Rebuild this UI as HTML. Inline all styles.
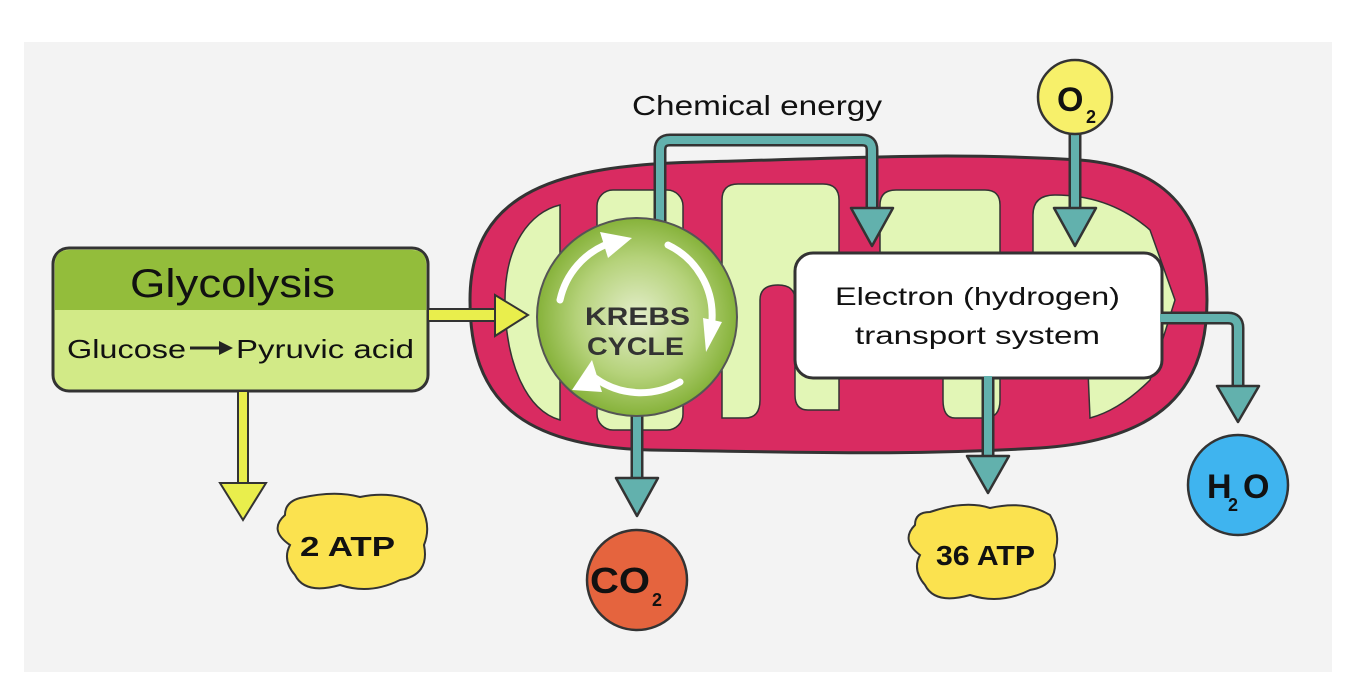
<!DOCTYPE html>
<html><head><meta charset="utf-8"><style>
html,body{margin:0;padding:0;background:#fff;width:1348px;height:690px;overflow:hidden}
svg{display:block}
text{font-family:"Liberation Sans",sans-serif}
</style></head><body>
<svg width="1348" height="690" viewBox="0 0 1348 690" xmlns="http://www.w3.org/2000/svg">
<defs>
<radialGradient id="kg" cx="50%" cy="50%" r="50%">
<stop offset="0" stop-color="#e4eecb"/><stop offset="0.6" stop-color="#b5d27a"/><stop offset="1" stop-color="#86b23a"/>
</radialGradient>
</defs>
<rect x="24" y="42" width="1308" height="630" fill="#f3f3f3"/>

<path d="M470,300 C470,190 560,165 700,162 C850,158 950,152 1080,160 C1180,168 1207,230 1207,300 C1207,390 1160,440 1040,448 C900,456 800,452 650,450 C520,446 470,400 470,300 Z" fill="#d92b61" stroke="#333" stroke-width="3"/>
<path d="M505,300 C505,245 530,212 560,205 L560,420 C525,410 505,360 505,300 Z" fill="#e2f6b6" stroke="#333" stroke-width="1.5"/>
<rect x="597" y="190" width="86" height="240" rx="16" fill="#e2f6b6" stroke="#333" stroke-width="1.5"/>
<path d="M722,200 Q722,184 738,184 L823,184 Q839,184 839,200 L839,410 L808,410 Q795,410 795,395 L795,300 Q795,285 778,285 Q760,285 760,300 L760,400 Q760,418 745,418 L722,418 Z" fill="#e2f6b6" stroke="#333" stroke-width="1.5"/>
<path d="M880,205 Q880,190 896,190 L985,190 Q1000,190 1000,205 L1000,400 Q1000,418 985,418 L955,418 Q943,418 943,400 L943,300 L880,300 Z" fill="#e2f6b6" stroke="#333" stroke-width="1.5"/>
<path d="M1033,215 Q1033,195 1055,195 Q1110,195 1150,230 L1175,300 L1150,380 Q1120,410 1090,418 L1085,300 L1033,300 Z" fill="#e2f6b6" stroke="#333" stroke-width="1.5"/>

<rect x="795" y="253" width="367" height="125" rx="18" fill="#fff" stroke="#333" stroke-width="3"/>
<text x="835" y="305" font-size="25" textLength="285" lengthAdjust="spacingAndGlyphs" fill="#111">Electron (hydrogen)</text>
<text x="855" y="344" font-size="25" textLength="245" lengthAdjust="spacingAndGlyphs" fill="#111">transport system</text>

<g fill="none" stroke-linejoin="round">
<path d="M660,225 L660,150 Q660,140 670,140 L862,140 Q872,140 872,150 L872,210" stroke="#333" stroke-width="13"/>
<path d="M660,225 L660,150 Q660,140 670,140 L862,140 Q872,140 872,150 L872,212" stroke="#62b1ad" stroke-width="8"/>
<path d="M1075,130 L1075,210" stroke="#333" stroke-width="13"/><path d="M1075,130 L1075,212" stroke="#62b1ad" stroke-width="8"/>
<path d="M1162,318 L1228,318 Q1238,318 1238,328 L1238,388" stroke="#333" stroke-width="13"/>
<path d="M1160,318 L1228,318 Q1238,318 1238,328 L1238,390" stroke="#62b1ad" stroke-width="8"/>
<path d="M988,378 L988,458" stroke="#333" stroke-width="13"/><path d="M988,376 L988,460" stroke="#62b1ad" stroke-width="8"/>
<path d="M637,410 L637,480" stroke="#333" stroke-width="13"/><path d="M637,410 L637,482" stroke="#62b1ad" stroke-width="8"/>
</g>
<g fill="#62b1ad" stroke="#333" stroke-width="2.5" stroke-linejoin="round">
<polygon points="851,208 893,208 872,246"/>
<polygon points="1054,208 1096,208 1075,246"/>
<polygon points="1217,386 1259,386 1238,422"/>
<polygon points="967,456 1009,456 988,493"/>
<polygon points="616,478 658,478 637,516"/>
</g>

<ellipse cx="637" cy="317" rx="100" ry="99" fill="url(#kg)" stroke="#555" stroke-width="2"/>
<g fill="none" stroke="#fff" stroke-width="7" stroke-linecap="round">
<path d="M560,300 A78,78 0 0 1 610,243"/>
<path d="M668,245 A78,78 0 0 1 712,320"/>
<path d="M680,382 A78,78 0 0 1 595,378"/>
</g>
<g fill="#fff">
<polygon points="600,232 632,238 608,258"/>
<polygon points="703,318 722,322 706,352"/>
<polygon points="592,360 572,390 602,392"/>
</g>
<text x="585" y="325" font-size="25" font-weight="bold" textLength="105" lengthAdjust="spacingAndGlyphs" fill="#333">KREBS</text>
<text x="587" y="355" font-size="25" font-weight="bold" textLength="97" lengthAdjust="spacingAndGlyphs" fill="#333">CYCLE</text>

<rect x="53" y="248" width="375" height="143" rx="16" fill="#d2ea87" stroke="#333" stroke-width="3"/>
<path d="M55,310 L55,264 Q55,250 69,250 L412,250 Q426,250 426,264 L426,310 Z" fill="#93bd3b"/>
<text x="130" y="297" font-size="40" textLength="205" lengthAdjust="spacingAndGlyphs" fill="#111">Glycolysis</text>
<text x="67" y="358" font-size="26" textLength="119" lengthAdjust="spacingAndGlyphs" fill="#111">Glucose</text>
<line x1="190" y1="348" x2="222" y2="348" stroke="#222" stroke-width="3"/>
<polygon points="219,341 233,348 219,355" fill="#222"/>
<text x="236" y="358" font-size="26" textLength="178" lengthAdjust="spacingAndGlyphs" fill="#111">Pyruvic acid</text>

<rect x="428" y="309" width="70" height="12" fill="#e9ee4c" stroke="#333" stroke-width="2"/>
<polygon points="495,295 528,315 495,336" fill="#e9ee4c" stroke="#333" stroke-width="2"/>
<rect x="238" y="391" width="10" height="94" fill="#e9ee4c" stroke="#333" stroke-width="2"/>
<polygon points="220,483 266,483 243,520" fill="#e9ee4c" stroke="#333" stroke-width="2"/>

<path d="M300,498 Q335,490 360,497 Q395,490 420,505 Q432,525 424,545 Q430,575 400,580 Q370,595 340,585 Q305,595 295,575 Q282,560 290,545 Q268,530 285,515 Q285,502 300,498 Z" fill="#fbe24f" stroke="#333" stroke-width="2"/>
<text x="300" y="556" font-size="28" font-weight="bold" textLength="95" lengthAdjust="spacingAndGlyphs" fill="#111">2 ATP</text>
<path d="M930,512 Q965,500 990,508 Q1025,500 1050,515 Q1062,535 1054,555 Q1060,585 1030,590 Q1000,605 970,595 Q935,605 925,585 Q912,570 920,555 Q900,540 915,525 Q915,512 930,512 Z" fill="#fbe24f" stroke="#333" stroke-width="2"/>
<text x="936" y="565" font-size="28" font-weight="bold" textLength="99" lengthAdjust="spacingAndGlyphs" fill="#111">36 ATP</text>

<circle cx="1075" cy="97" r="37" fill="#f7f06a" stroke="#333" stroke-width="2.5"/>
<text x="1057" y="111" font-size="34" font-weight="bold" fill="#111">O</text>
<text x="1086" y="123" font-size="18" font-weight="bold" fill="#111">2</text>
<circle cx="1238" cy="485" r="50" fill="#3fb4ef" stroke="#333" stroke-width="2.5"/>
<text x="1207" y="498" font-size="34" font-weight="bold" fill="#111">H</text>
<text x="1228" y="511" font-size="18" font-weight="bold" fill="#111">2</text>
<text x="1243" y="498" font-size="34" font-weight="bold" fill="#111">O</text>
<circle cx="637" cy="580" r="50" fill="#e5643e" stroke="#333" stroke-width="2.5"/>
<text x="590" y="593" font-size="36" font-weight="bold" textLength="60" lengthAdjust="spacingAndGlyphs" fill="#111">CO</text>
<text x="652" y="606" font-size="18" font-weight="bold" fill="#111">2</text>

<text x="632" y="115" font-size="28" textLength="250" lengthAdjust="spacingAndGlyphs" fill="#111">Chemical energy</text>
</svg>
</body></html>
